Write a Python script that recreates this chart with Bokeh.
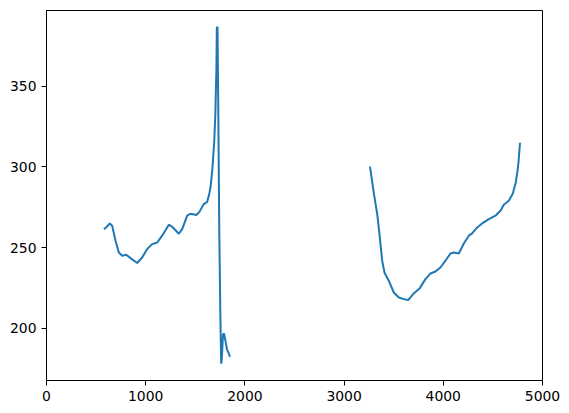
import math
from bokeh.plotting import figure
from bokeh.models import Range1d, FixedTicker
from bokeh.embed import file_html
from bokeh.resources import INLINE

# Segment 1 (left trace)
seg1_x = [578, 601, 638, 662, 696, 729, 763, 803, 847, 914, 964, 1015, 1065, 1116,
          1166, 1233, 1267, 1334, 1368, 1418, 1451, 1510, 1540, 1586, 1620, 1640,
          1655, 1673, 1691, 1702, 1713, 1717, 1724, 1731, 1742, 1753, 1761, 1768,
          1779, 1790, 1801, 1819, 1834, 1849]
seg1_y = [261.5, 262.5, 265.0, 263.6, 254.3, 247.0, 245.0, 245.6, 243.5, 240.5, 243.9,
          249.1, 252.2, 253.2, 257.4, 264.2, 262.9, 258.6, 261.5, 269.8, 271.0, 270.2,
          272.0, 277.0, 278.4, 283.0, 288.0, 299.4, 316.0, 332.5, 361.0, 386.5, 386.5,
          340.7, 258.0, 206.6, 178.1, 181.8, 196.3, 196.7, 193.2, 187.0, 185.0, 182.3]

# Segment 2 (right trace)
seg2_x = [3261, 3301, 3334, 3360, 3384, 3407, 3450, 3501, 3552, 3602, 3646, 3696, 3763,
          3820, 3871, 3921, 3971, 4022, 4072, 4106, 4156, 4207, 4257, 4291, 4341, 4392,
          4459, 4526, 4576, 4610, 4660, 4700, 4730, 4748, 4759, 4773]
seg2_y = [300.2, 283.2, 270.8, 256.3, 241.9, 234.6, 229.5, 222.2, 219.1, 218.1, 217.5,
          221.2, 224.9, 230.5, 234.0, 235.2, 237.7, 241.9, 246.4, 247.0, 246.4, 252.6,
          257.4, 258.8, 262.5, 265.0, 267.7, 269.8, 272.9, 276.6, 279.1, 283.4, 290.2,
          297.4, 303.6, 315.0]

x_ticks = [0, 1000, 2000, 3000, 4000, 5000]
y_ticks = [200, 250, 300, 350]

xs = seg1_x + [float("nan")] + seg2_x
ys = seg1_y + [float("nan")] + seg2_y

all_y = seg1_y + seg2_y
ymin, ymax = min(all_y), max(all_y)
pad = (ymax - ymin) * 0.05

p = figure(frame_width=496, frame_height=370, output_backend="svg", toolbar_location=None,
           x_range=Range1d(0, 5000), y_range=Range1d(ymin - pad, ymax + pad),
           min_border_left=46, min_border_top=10, min_border_right=20, min_border_bottom=28,
           background_fill_color="white", border_fill_color="white")

p.line(xs, ys, line_color="#1f77b4", line_width=2)

p.xgrid.visible = False
p.ygrid.visible = False
p.outline_line_color = "black"
p.outline_line_width = 1
p.outline_line_alpha = 1

p.xaxis.ticker = FixedTicker(ticks=x_ticks)
p.yaxis.ticker = FixedTicker(ticks=y_ticks)
for ax in (p.xaxis, p.yaxis):
    ax.axis_line_color = "black"
    ax.axis_line_width = 1
    ax.major_tick_line_color = "black"
    ax.major_tick_in = 0
    ax.major_tick_out = 5
    ax.minor_tick_line_color = None
    ax.major_label_text_font = "DejaVu Sans"
    ax.major_label_text_font_size = "13.9px"
    ax.major_label_text_color = "black"
    ax.major_label_standoff = 5

open("out.html", "w").write(file_html(p, INLINE))
